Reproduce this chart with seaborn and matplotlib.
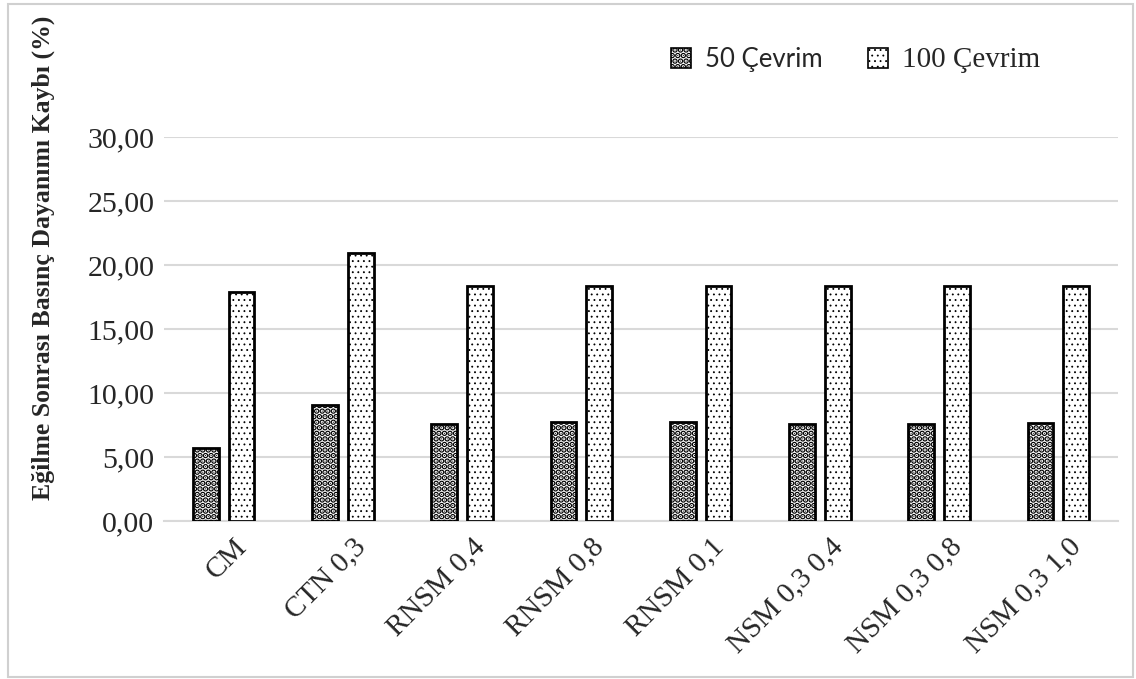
import matplotlib
matplotlib.use("Agg")
import matplotlib.pyplot as plt
import matplotlib.transforms as mtransforms
import seaborn as sns
import pandas as pd
from matplotlib.patches import Patch, Rectangle

categories = ["CM", "CTN 0,3", "RNSM 0,4", "RNSM 0,8", "RNSM 0,1",
              "NSM 0,3 0,4", "NSM 0,3 0,8", "NSM 0,3 1,0"]
series_names = ["50 Çevrim", "100 Çevrim"]
values_50 = [5.70, 9.06, 7.58, 7.70, 7.70, 7.58, 7.58, 7.66]
values_100 = [17.86, 20.94, 18.36, 18.36, 18.36, 18.36, 18.36, 18.36]
y_ticks = [0, 5, 10, 15, 20, 25, 30]
y_tick_labels = ["0,00", "5,00", "10,00", "15,00", "20,00", "25,00", "30,00"]
y_label = "Eğilme Sonrası Basınç Dayanımı Kaybı (%)"

df = pd.DataFrame({
    "cat": categories * 2,
    "series": [series_names[0]] * len(categories) + [series_names[1]] * len(categories),
    "val": values_50 + values_100,
})

sns.set_theme(style="white")
plt.rcParams["font.family"] = ["Liberation Serif", "DejaVu Serif"]
plt.rcParams["hatch.linewidth"] = 1.0

fig = plt.figure(figsize=(11.36, 6.79), dpi=100)
ax = fig.add_axes([164 / 1136, 1 - 521 / 679, (1118 - 164) / 1136, (521 - 137) / 679])

sns.barplot(data=df, x="cat", y="val", hue="series", order=categories,
            hue_order=series_names, palette=["white", "white"],
            width=0.6, gap=0.28, edgecolor="black", linewidth=2.0,
            legend=False, ax=ax, zorder=3)

hatches = {series_names[0]: "...", series_names[1]: "..."}
hlw = {series_names[0]: 3.0, series_names[1]: 0.6}
n = len(categories)


def style_hatch(p, s):
    p.set_hatch(hatches[s])
    try:
        p.set_hatch_linewidth(hlw[s])
    except AttributeError:
        p._hatch_linewidth = hlw[s]


for i, p in enumerate(ax.patches[: 2 * n]):
    style_hatch(p, series_names[i // n])

ax.set_ylim(0, 30)
ax.set_xlim(-0.5, n - 0.5)
ax.set_yticks(y_ticks)
ax.set_yticklabels(y_tick_labels, fontsize=21.5)
ax.yaxis.grid(True, color="#d9d9d9", linewidth=1.5, zorder=0)
ax.set_axisbelow(True)
for side in ["left", "right", "top"]:
    ax.spines[side].set_visible(False)
ax.spines["bottom"].set_color("#d9d9d9")
ax.spines["bottom"].set_linewidth(1.5)
ax.tick_params(axis="y", length=0, pad=7)
ax.tick_params(axis="x", length=0, pad=0)
ax.set_xlabel("")
ax.set_ylabel("")

offset = mtransforms.ScaledTranslation(19 / 100, -22 / 100, fig.dpi_scale_trans)
ax.set_xticks(range(n))
ax.set_xticklabels(categories, fontsize=21, rotation=45, ha="right",
                   va="center", rotation_mode="anchor")
for lab in ax.get_xticklabels():
    lab.set_transform(lab.get_transform() + offset)

fig.text(43 / 1136, 1 - 258 / 679, y_label, rotation=90, ha="center", va="center",
         fontsize=18.5, fontweight="bold", family=["Liberation Serif"])

handles = [Patch(facecolor="white", edgecolor="black", linewidth=1.2) for s in series_names]
leg = fig.legend(handles, series_names, loc="center left",
                 bbox_to_anchor=(660 / 1136, 1 - 60 / 679), ncol=2, frameon=False,
                 fontsize=19, handlelength=0.76, handleheight=0.76,
                 handletextpad=0.53, columnspacing=1.75, borderaxespad=0)
for h, s in zip(leg.legend_handles, series_names):
    style_hatch(h, s)
txts = leg.get_texts()
txts[0].set_fontfamily(["Lato", "DejaVu Sans"])
txts[0].set_fontsize(18.5)
txts[1].set_fontfamily(["Liberation Serif"])
txts[1].set_fontsize(21)

fig.patches.append(Rectangle((8 / 1136, 2 / 679), (1133 - 8) / 1136, (675 - 2) / 679,
                             transform=fig.transFigure, fill=False,
                             edgecolor="#d0d0d0", linewidth=1.5))

fig.savefig("out.png", dpi=100, facecolor="white")
